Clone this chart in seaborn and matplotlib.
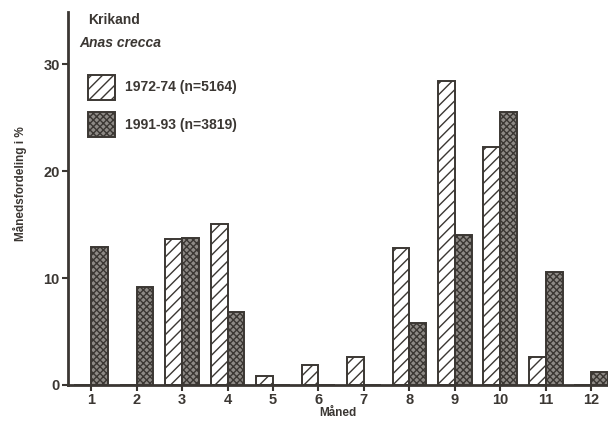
import matplotlib
matplotlib.use("Agg")
import matplotlib.pyplot as plt
import seaborn as sns
import pandas as pd
from matplotlib.patches import Patch

months = ["1", "2", "3", "4", "5", "6", "7", "8", "9", "10", "11", "12"]
series_names = ["1972-74 (n=5164)", "1991-93 (n=3819)"]
vals_1972 = [0, 0, 13.7, 15.1, 0.8, 1.9, 2.6, 12.8, 28.4, 22.3, 2.6, 0]
vals_1991 = [12.9, 9.2, 13.8, 6.8, 0, 0, 0, 5.8, 14.0, 25.5, 10.6, 1.2]

df = pd.DataFrame({
    "Måned": months * 2,
    "pct": vals_1972 + vals_1991,
    "serie": [series_names[0]] * 12 + [series_names[1]] * 12,
})

sns.set_theme(style="white")
plt.rcParams["font.family"] = ["Liberation Sans", "DejaVu Sans"]
plt.rcParams["hatch.linewidth"] = 1.0
ink = "#3b3733"
dotfill = "#8e8a86"

fig = plt.figure(figsize=(6.08, 4.26), dpi=100)
ax = fig.add_axes([68 / 608, 1 - 385 / 426, 540 / 608, 373 / 426])

sns.barplot(data=df, x="Måned", y="pct", hue="serie", order=months,
            hue_order=series_names, width=0.74, ax=ax, legend=False,
            palette=["white", dotfill], saturation=1)

n = len(months)
for i, patch in enumerate(ax.patches[:2 * n]):
    if i < n:
        patch.set_facecolor("white")
        patch.set_hatch("///")
    else:
        patch.set_facecolor(dotfill)
        patch.set_hatch("xxxxx")
    patch.set_edgecolor(ink)
    patch.set_linewidth(1.4)

ax.set_xlim(-0.51, 11.37)
ax.set_ylim(0, 34.9)
ax.set_yticks([0, 10, 20, 30])
for s in ["top", "right"]:
    ax.spines[s].set_visible(False)
for s in ["left", "bottom"]:
    ax.spines[s].set_color(ink)
    ax.spines[s].set_linewidth(2)
ax.tick_params(axis="both", colors=ink, direction="out", length=4, width=1.5,
               labelsize=10.5, left=True, bottom=True, pad=2)
for lab in ax.get_xticklabels() + ax.get_yticklabels():
    lab.set_fontweight("bold")
    lab.set_color(ink)

ax.set_xlabel("Måned", fontsize=8.5, fontweight="bold", color=ink, labelpad=0)
ax.set_ylabel("Månedsfordeling i %", fontsize=8.5, fontweight="bold", color=ink)
ax.yaxis.set_label_coords(-0.076, 0.54)

fig.text(88 / 608, 1 - 20 / 426, "Krikand", fontsize=10, fontweight="bold",
         color=ink, va="center", ha="left")
fig.text(79 / 608, 1 - 43 / 426, "Anas crecca", fontsize=10, fontweight="bold",
         style="italic", color=ink, va="center", ha="left")

handles = [
    Patch(facecolor="white", edgecolor=ink, hatch="///", linewidth=1.4),
    Patch(facecolor=dotfill, edgecolor=ink, hatch="xxxxx", linewidth=1.4),
]
leg = ax.legend(handles, series_names, loc="upper left",
                bbox_to_anchor=(7 / 540, 1 - 50 / 373), frameon=False,
                handlelength=2.0, handleheight=2.4, handletextpad=0.7,
                labelspacing=0.9, fontsize=10)
for t in leg.get_texts():
    t.set_fontweight("bold")
    t.set_color(ink)

fig.savefig("out.png", dpi=100, facecolor="white")
